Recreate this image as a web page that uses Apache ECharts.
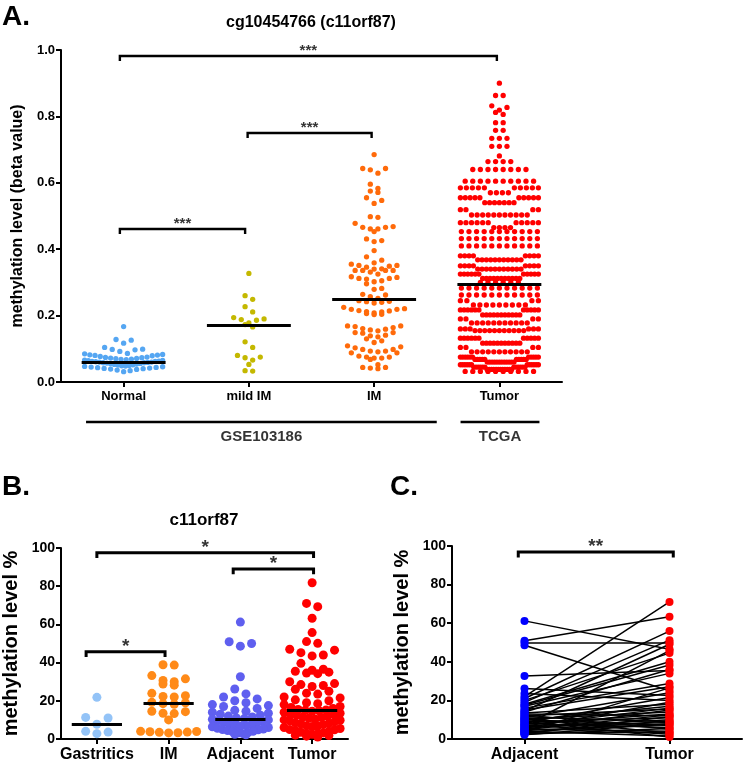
<!DOCTYPE html>
<html><head><meta charset="utf-8">
<script src="https://cdn.jsdelivr.net/npm/echarts@6/dist/echarts.min.js"></script>
<style>html,body{margin:0;padding:0;background:#fff}#c{width:743px;height:764px}</style>
</head><body><div id="c"></div>
<script>
// ---------------- DATA ----------------
const catsA = ['Normal', 'mild IM', 'IM', 'Tumor'];
const normalA = [0.167,0.128,0.126,0.117,0.104,0.099,0.098,0.097,0.092,0.086,0.085,0.083,0.082,0.081,0.080,0.079,0.077,0.075,0.074,0.073,0.072,0.071,0.070,0.069,0.068,0.067,0.066,0.065,0.064,0.063,0.062,0.062,0.061,0.060,0.060,0.059,0.058,0.058,0.057,0.056,0.055,0.054,0.053,0.052,0.051,0.050,0.049,0.048,0.047,0.046,0.045,0.044,0.043,0.042,0.041,0.040,0.039,0.038,0.036,0.034,0.031];
const mildImA = [0.327,0.260,0.249,0.227,0.211,0.194,0.190,0.188,0.186,0.178,0.173,0.166,0.121,0.104,0.080,0.075,0.073,0.066,0.053,0.034,0.033];
const imA = [0.685,0.643,0.643,0.639,0.629,0.596,0.583,0.575,0.571,0.555,0.547,0.538,0.498,0.496,0.478,0.468,0.466,0.466,0.461,0.461,0.453,0.431,0.426,0.423,0.396,0.377,0.367,0.359,0.355,0.351,0.351,0.349,0.346,0.341,0.340,0.336,0.336,0.336,0.336,0.331,0.325,0.317,0.315,0.312,0.312,0.310,0.305,0.302,0.296,0.282,0.279,0.264,0.262,0.257,0.252,0.245,0.243,0.242,0.240,0.238,0.225,0.221,0.219,0.219,0.215,0.214,0.212,0.211,0.208,0.206,0.204,0.203,0.169,0.169,0.167,0.164,0.161,0.159,0.157,0.154,0.149,0.149,0.147,0.141,0.139,0.136,0.130,0.124,0.119,0.109,0.106,0.103,0.098,0.098,0.093,0.093,0.091,0.088,0.088,0.078,0.075,0.075,0.072,0.072,0.068,0.052,0.044,0.044,0.042,0.040];
// Tumor (TCGA): value levels read row by row, with the number of dots at each level
const tumorALevels = [0.900,0.863,0.832,0.827,0.819,0.812,0.806,0.781,0.758,0.734,0.710,0.681,0.664,0.640,0.605,0.585,0.570,0.555,0.540,0.519,0.503,0.480,0.465,0.453,0.432,0.410,0.380,0.368,0.350,0.340,0.325,0.312,0.300,0.283,0.262,0.245,0.232,0.217,0.202,0.190,0.178,0.160,0.155,0.132,0.117,0.104,0.091,0.075,0.068,0.060,0.052,0.045,0.038,0.032];
const tumorACounts = [1,2,1,1,1,1,1,2,2,3,3,1,4,8,10,10,4,10,7,4,11,11,4,11,11,11,8,11,8,11,11,11,6,11,11,4,9,11,11,4,11,6,11,11,11,4,11,11,10,12,12,12,12,10];
const mediansA = [0.060, 0.172, 0.248, 0.295];
const bracketsA = [
  {from: 0.47, to: 3.48, y: 0.982, text: '***'},
  {from: 1.49, to: 2.48, y: 0.750, text: '***'},
  {from: 0.47, to: 1.47, y: 0.461, text: '***'}
];
const groupsA = [{text: 'GSE103186', from: 0.2, to: 3.0}, {text: 'TCGA', from: 3.19, to: 3.82}];

const catsB = ['Gastritics', 'IM', 'Adjacent', 'Tumor'];
const gastriticsB = [21.8, 11.3, 11.0, 7.7, 4.0, 3.6, 2.8];
const imB = [38.9,38.7,33.2,31.5,30.6,30.0,28.8,28.2,23.9,22.7,22.3,22.0,19.2,19.0,18.5,18.2,14.5,14.3,13.5,13.3,10.0,4.0,3.8,3.5,3.3,3.2,3.6,3.9];
const tumorB = [81.8,71.0,69.3,63.2,55.7,51.0,50.1,47.0,46.5,45.2,44.0,43.5,39.6,36.5,36.0,35.5,35.0,34.5,34.2,30.0,29.0,28.5,28.0,27.5,26.0,25.0,24.0,23.5,22.0,21.5,20.5,20.0,19.0,18.5,18.0,17.0,16.5,16.0,15.5,15.2,15.0,14.8,14.5,14.0,13.5,13.0,12.8,12.5,12.0,11.5,11.2,11.0,10.5,10.0,9.8,9.5,9.0,8.5,8.2,8.0,7.5,7.0,6.8,6.5,6.0,5.5,5.0,4.8,4.5,4.0,3.5,3.2,3.0,2.8,2.5,2.0,1.8,1.5,1.0];
// paired samples (B "Adjacent" column and panel C)
const pairedAdjacent = [61.2,50.9,50.0,48.6,32.6,26.2,23.6,22.0,21.0,20.0,19.0,18.0,17.5,17.0,16.0,15.0,14.5,14.0,13.5,13.0,12.5,12.0,11.5,11.0,10.7,10.3,10.0,9.6,9.2,8.8,8.4,8.0,7.6,7.2,6.8,6.4,6.0,5.6,5.2,4.8,4.4,4.0,3.7,3.4,3.1,2.8,2.5,2.2,5.0,7.0];
const pairedTumor    = [46.5,63.3,50.0,25.0,35.5,22.5,20.0,71.0,55.9,44.5,51.2,40.0,38.3,34.0,28.8,27.1,49.1,36.0,18.0,12.0,5.0,15.5,9.0,24.0,3.0,14.0,7.0,17.0,1.0,11.0,21.5,6.0,13.0,2.5,16.0,8.5,10.0,19.0,4.0,12.5,7.5,1.5,26.5,9.5,3.5,11.5,5.5,8.0,15.0,45.8];
const mediansB = [7.7, 18.8, 10.5, 15.3];
const bracketsB = [
  {from: 0.50, to: 3.52, y: 97.5, text: '*'},
  {from: 2.40, to: 3.52, y: 89.0, text: '*'},
  {from: 0.35, to: 1.45, y: 45.7, text: '*'}
];
const catsC = ['Adjacent', 'Tumor'];
const bracketsC = [{from: 0.457, to: 1.526, y: 96.9, text: '**'}];

// ---------------- LAYOUT ----------------
const FONT = '"Liberation Sans", Arial, Helvetica, sans-serif';
const GA = {left: 61, top: 50, width: 501, height: 332};
const GB = {left: 61, top: 548, width: 287, height: 191};
const GC = {left: 452, top: 546, width: 290, height: 193};
const pxXA = GA.width / 4, pxYA = GA.height / 1.0;
const pxXB = GB.width / 4, pxYB = GB.height / 100;

function binRows(values, pxY, rowH) {
  const s = values.slice().sort((a, b) => b - a);
  const rows = []; let start = null, cur = null;
  s.forEach(v => {
    if (cur === null || (start - v) * pxY > rowH) { cur = []; rows.push(cur); start = v; }
    cur.push(v);
  });
  return rows;
}
function layoutRows(rows, cat, pxX, d, maxW) {
  const out = [];
  rows.forEach(items => {
    const n = items.length;
    const sp = n > 1 ? Math.min(d, maxW / (n - 1)) : 0;
    const vals = items.slice().sort((a, b) => b - a);
    const slots = [];
    for (let i = 0; i < n; i++) slots.push((i - (n - 1) / 2) * sp);
    slots.sort((a, b) => (Math.abs(b) - Math.abs(a)) || (a - b));
    vals.forEach((v, i) => out.push([cat + 0.5 + slots[i] / pxX, v]));
  });
  return out;
}
const dA = 7.6, rowA = 6, maxWA = 78;
const tumorAValues = [];
tumorALevels.forEach((v, i) => { for (let k = 0; k < tumorACounts[i]; k++) tumorAValues.push(v); });
const ptsA = [
  layoutRows(binRows(normalA, pxYA, rowA), 0, pxXA, dA, maxWA),
  layoutRows(binRows(mildImA, pxYA, rowA), 1, pxXA, dA, maxWA),
  layoutRows(binRows(imA, pxYA, rowA), 2, pxXA, dA, maxWA),
  layoutRows(binRows(tumorAValues, pxYA, 5.5), 3, pxXA, dA, maxWA)
];
const dB = 11.2, rowB = 7, maxWB = 56;
const ptsB = [
  layoutRows(binRows(gastriticsB, pxYB, rowB), 0, pxXB, dB, maxWB),
  layoutRows(binRows(imB, pxYB, rowB), 1, pxXB, dB, maxWB),
  layoutRows(binRows(pairedAdjacent, pxYB, rowB), 2, pxXB, dB, maxWB),
  layoutRows(binRows(tumorB, pxYB, rowB), 3, pxXB, dB, maxWB)
];
const colorsA = ['#55a6f2', '#c4b800', '#ff6a0a', '#ff0000'];
const colorsB = ['#93c3f7', '#ff8a18', '#5f5fef', '#ff0000'];
const colorsC = ['#0000ff', '#ff0000'];

function xAxisCfg(gi, cats, fs, margin) {
  const centers = cats.map((c, i) => i + 0.5);
  return {
    type: 'value', gridIndex: gi, min: 0, max: cats.length,
    axisLine: {show: true, onZero: false, lineStyle: {color: '#000', width: 2}},
    axisTick: {show: true, customValues: centers, length: 5, lineStyle: {color: '#000', width: 2}},
    axisLabel: {show: true, customValues: centers, formatter: v => cats[Math.floor(v)], color: '#000',
      fontWeight: 'bold', fontSize: fs, fontFamily: FONT, margin: margin},
    splitLine: {show: false}
  };
}
function yAxisCfg(gi, max, interval, fmt, fs, name, nfs, gap) {
  return {
    type: 'value', gridIndex: gi, min: 0, max: max, interval: interval,
    axisLine: {show: true, lineStyle: {color: '#000', width: 2}},
    axisTick: {show: true, length: 5, lineStyle: {color: '#000', width: 2}},
    axisLabel: {formatter: fmt, color: '#000', fontWeight: 'bold', fontSize: fs, fontFamily: FONT, margin: 6},
    splitLine: {show: false},
    name: name, nameLocation: 'middle', nameRotate: 90, nameGap: gap,
    nameTextStyle: {color: '#000', fontWeight: 'bold', fontSize: nfs, fontFamily: FONT}
  };
}

const series = [];
ptsA.forEach((pts, i) => series.push({type: 'scatter', xAxisIndex: 0, yAxisIndex: 0, data: pts,
  symbolSize: 5.3, itemStyle: {color: colorsA[i], opacity: 1}, silent: true, z: 2}));
ptsB.forEach((pts, i) => series.push({type: 'scatter', xAxisIndex: 1, yAxisIndex: 1, data: pts,
  symbolSize: 9, itemStyle: {color: colorsB[i], opacity: 1}, silent: true, z: 2}));
series.push({type: 'lines', coordinateSystem: 'cartesian2d', xAxisIndex: 2, yAxisIndex: 2,
  data: pairedAdjacent.map((a, i) => ({coords: [[0.5, a], [1.5, pairedTumor[i]]]})),
  lineStyle: {color: '#000', width: 1.5, opacity: 1}, silent: true, z: 1});
series.push({type: 'scatter', xAxisIndex: 2, yAxisIndex: 2, data: pairedAdjacent.map(v => [0.5, v]),
  symbolSize: 8, itemStyle: {color: colorsC[0], opacity: 1}, silent: true, z: 3});
series.push({type: 'scatter', xAxisIndex: 2, yAxisIndex: 2, data: pairedTumor.map(v => [1.5, v]),
  symbolSize: 8, itemStyle: {color: colorsC[1], opacity: 1}, silent: true, z: 3});
series.push({type: 'lines', coordinateSystem: 'cartesian2d', xAxisIndex: 0, yAxisIndex: 0,
  data: mediansA.map((m, i) => ({coords: [[i + 0.5 - 0.335, m], [i + 0.5 + 0.335, m]]})),
  lineStyle: {color: '#000', width: 2.8, opacity: 1}, silent: true, z: 5});
series.push({type: 'lines', coordinateSystem: 'cartesian2d', xAxisIndex: 1, yAxisIndex: 1,
  data: mediansB.map((m, i) => ({coords: [[i + 0.5 - 0.35, m], [i + 0.5 + 0.35, m]]})),
  lineStyle: {color: '#000', width: 3.2, opacity: 1}, silent: true, z: 5});
function addBrackets(list, xi, tick, width, fs, lift) {
  series.push({type: 'lines', coordinateSystem: 'cartesian2d', xAxisIndex: xi, yAxisIndex: xi, polyline: true,
    data: list.map(b => ({coords: [[b.from, b.y - tick], [b.from, b.y], [b.to, b.y], [b.to, b.y - tick]]})),
    lineStyle: {color: '#000', width: width, opacity: 1}, silent: true, z: 5, clip: false});
  series.push({type: 'scatter', xAxisIndex: xi, yAxisIndex: xi, clip: false, silent: true, z: 6,
    symbolSize: 1, itemStyle: {color: 'rgba(0,0,0,0)'},
    data: list.map(b => ({value: [(b.from + b.to) / 2, b.y], name: b.text})),
    label: {show: true, position: 'top', distance: lift, formatter: p => p.name, color: '#000',
      fontWeight: 'bold', fontSize: fs, fontFamily: FONT}});
}
addBrackets(bracketsA, 0, 0.015, 2.4, 15, -3);
addBrackets(bracketsB, 1, 2.8, 3, 19, -5);
addBrackets(bracketsC, 2, 2.8, 3, 19, -5);
series.push({type: 'lines', coordinateSystem: 'cartesian2d', xAxisIndex: 0, yAxisIndex: 0, clip: false,
  data: groupsA.map(g => ({coords: [[g.from, -0.1205], [g.to, -0.1205]]})),
  lineStyle: {color: '#000', width: 2.4, opacity: 1}, silent: true});
series.push({type: 'scatter', xAxisIndex: 0, yAxisIndex: 0, clip: false, silent: true,
  symbolSize: 1, itemStyle: {color: 'rgba(0,0,0,0)'},
  data: groupsA.map(g => ({value: [(g.from + g.to) / 2, -0.166], name: g.text})),
  label: {show: true, position: 'inside', formatter: p => p.name, color: '#000',
    fontWeight: 'bold', fontSize: 15, fontFamily: FONT}});

const txt = (text, x, y, size, align) => ({type: 'text', x: x, y: y, silent: true,
  style: {text: text, fill: '#000', font: 'bold ' + size + 'px ' + FONT, textAlign: align || 'left', textVerticalAlign: 'middle'}});

const option = {
  animation: false,
  backgroundColor: '#fff',
  grid: [GA, GB, GC],
  xAxis: [xAxisCfg(0, catsA, 13, 8), xAxisCfg(1, catsB, 16, 8), xAxisCfg(2, catsC, 16, 8)],
  yAxis: [
    yAxisCfg(0, 1.0, 0.2, v => v.toFixed(1), 13, 'methylation level (beta value)', 16, 35),
    yAxisCfg(1, 100, 20, v => String(v), 14, 'methylation level %', 20, 40),
    yAxisCfg(2, 100, 20, v => String(v), 14, 'methylation level %', 20, 40)
  ],
  graphic: [
    txt('A.', 2, 17, 28), txt('cg10454766 (c11orf87)', 311, 23, 16, 'center'),
    txt('B.', 2, 487, 28), txt('c11orf87', 204, 520, 17, 'center'),
    txt('C.', 390, 487, 28)
  ],
  series: series
};
const chart = echarts.init(document.getElementById('c'));
chart.setOption(option);
</script>
</body></html>
